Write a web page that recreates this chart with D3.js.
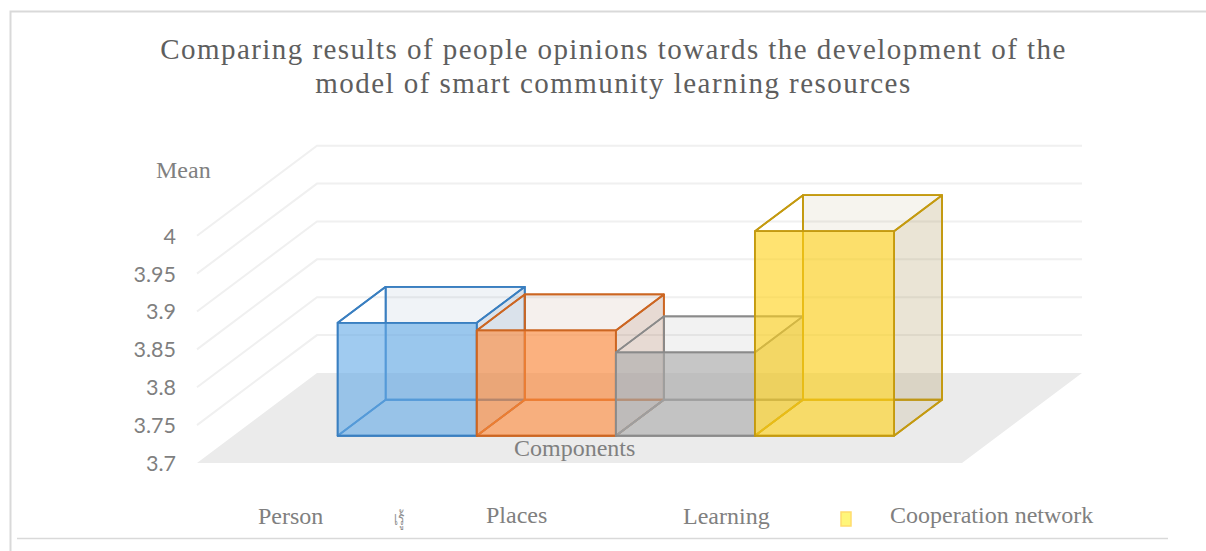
<!DOCTYPE html>
<html>
<head>
<meta charset="utf-8">
<script src="https://cdn.jsdelivr.net/npm/d3@7"></script>
<style>
  html, body { margin: 0; padding: 0; background: #fff; }
  svg { display: block; }
  .serif { font-family: "Liberation Serif", serif; }
  .title { font-size: 29px; fill: #5e5e5e; letter-spacing: 1.45px; text-anchor: middle; }
  .label { font-size: 24px; fill: #808080; }
  .tick text { font-family: Lato, sans-serif; font-size: 21.5px; fill: #7f7f7f; }
</style>
</head>
<body>
<svg width="1206" height="551"></svg>
<script>
// Chart values
var categories = ["Person", "Places", "Learning", "Cooperation network"];
var means = [3.849, 3.839, 3.81, 3.97];
var yTicks = [3.7, 3.75, 3.8, 3.85, 3.9, 3.95, 4];
var titleLines = [
    "Comparing results of people opinions towards the development of the",
    "model of smart community learning resources"
];

// Colours per bar: front fill, outline, fill of the see-through back faces
var fronts = ["#66abe7", "#ff8a3c", "#ababab", "#ffd21a"];
var strokes = ["#3a7fc0", "#cc6622", "#8a8a8a", "#c49a10"];
var backs = ["#557da5", "#95583a", "#6e6e6e", "#a08a40"];

var svg = d3.select("svg");

// Frame around the chart (only partly visible in the picture)
var frame = svg.append("g").attr("fill", "none").attr("stroke", "#d9d9d9");
frame.append("path").attr("stroke-width", 2).attr("d", "M10.5,551V11.5H1206");
frame.append("path").attr("stroke-width", 1.5).attr("d", "M17,538.5H1168");

// Front plane of the fake 3D box
var floorL = 197, floorR = 962;
var x = d3.scaleBand().domain(categories).range([floorL, floorR]).paddingInner(0).paddingOuter(0.75);
var y = d3.scaleLinear().domain([3.7, 4]).range([463, 235.7]);

// Depth goes up and to the right, d = 0 front edge of floor, d = 1 back wall
var depthX = 120, depthY = -90;
var barFront = 0.303, barBack = 0.703;

function pt(px, value, d) {
    return [px + d * depthX, y(value) + d * depthY];
}
var poly = d3.line();

// Floor
svg.append("path")
    .attr("d", poly([pt(floorL, 3.7, 0), pt(floorL, 3.7, 1), pt(floorR, 3.7, 1), pt(floorR, 3.7, 0)]) + "Z")
    .attr("fill", "#ebebeb");

// Gridlines along left wall and back wall
svg.append("g").selectAll("path")
    .data(yTicks.slice(1))
    .enter().append("path")
    .attr("d", function(d) { return poly([pt(floorL, d, 0), pt(floorL, d, 1), pt(floorR, d, 1)]); })
    .attr("fill", "none")
    .attr("stroke", "#f0f0f0")
    .attr("stroke-width", 2);

// Bars
var bars = svg.append("g").selectAll("g")
    .data(categories)
    .enter().append("g");

bars.each(function(name, i) {
    var g = d3.select(this);
    var l = x(name), r = l + x.bandwidth(), v = means[i];

    // corners: a = front, b = back
    var aBL = pt(l, 3.7, barFront), aBR = pt(r, 3.7, barFront), aTL = pt(l, v, barFront), aTR = pt(r, v, barFront);
    var bBL = pt(l, 3.7, barBack), bBR = pt(r, 3.7, barBack), bTL = pt(l, v, barBack), bTR = pt(r, v, barBack);

    function face(points, fill, opacity) {
        g.append("path")
            .attr("d", poly(points) + "Z")
            .attr("fill", fill)
            .attr("fill-opacity", opacity)
            .attr("stroke", strokes[i])
            .attr("stroke-width", 1.8)
            .attr("stroke-linejoin", "round");
    }

    face([bBL, bTL, bTR, bBR], backs[i], 0.09);   // back
    face([aBL, bBL, bTL, aTL], backs[i], 0);      // left side
    face([aBL, aBR, bBR, bBL], fronts[i], 0);     // bottom
    face([aBR, bBR, bTR, aTR], backs[i], 0.14);   // right side
    face([aTL, aTR, bTR, bTL], backs[i], 0);      // top
    face([aBL, aBR, aTR, aTL], fronts[i], 0.62);  // front
});

// Value axis, hand placed labels through the scale
var ticks = svg.append("g").attr("class", "tick");
ticks.selectAll("text")
    .data(yTicks)
    .enter().append("text")
    .attr("x", 176)
    .attr("y", function(d) { return y(d) + 8; })
    .attr("text-anchor", "end")
    .text(function(d) { return d; });

// Title
svg.append("g").selectAll("text")
    .data(titleLines)
    .enter().append("text")
    .attr("class", "serif title")
    .attr("x", 613.5)
    .attr("y", function(d, i) { return 59 + i * 34; })
    .text(function(d) { return d; });

// Axis titles
svg.append("text").attr("class", "serif label").attr("x", 156).attr("y", 178).text("Mean");
svg.append("text").attr("class", "serif label").attr("x", 514).attr("y", 456).text("Components");

// Legend, keys are missing in the original except the last one
var legendX = [258, 486, 683, 890];
var legendY = [524, 523, 524, 523];
svg.append("g").selectAll("text")
    .data(categories)
    .enter().append("text")
    .attr("class", "serif label")
    .attr("x", function(d, i) { return legendX[i]; })
    .attr("y", function(d, i) { return legendY[i]; })
    .text(function(d) { return d; });

svg.append("rect")
    .attr("x", 841).attr("y", 512).attr("width", 10).attr("height", 14)
    .attr("fill", "#fff67a").attr("stroke", "#ffdc6e").attr("stroke-width", 1.5);

// Small squeezed Thai word beside the first legend entry
svg.append("text")
    .attr("transform", "translate(394,525) scale(0.85,1.35)")
    .attr("font-family", "Noto Sans, sans-serif")
    .attr("font-size", 14)
    .attr("fill", "#8f8f8f")
    .text("เรู้");
</script>
</body>
</html>
